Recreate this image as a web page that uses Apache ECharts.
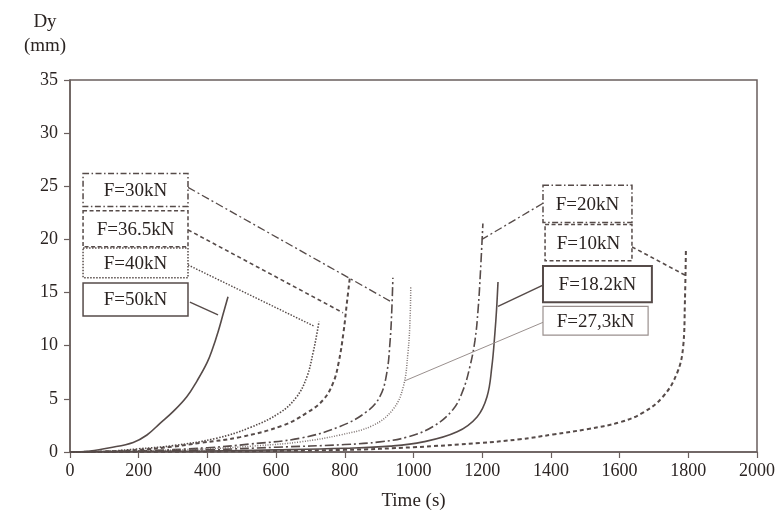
<!DOCTYPE html>
<html>
<head>
<meta charset="utf-8">
<script src="https://cdn.jsdelivr.net/npm/echarts@6/dist/echarts.min.js"></script>
<style>html,body{margin:0;padding:0;background:#fff}#c{width:783px;height:518px}</style>
</head>
<body>
<div id="c"></div>
<script>
// ---- data (time s, Dy mm) ----
const xTicks = [0,200,400,600,800,1000,1200,1400,1600,1800,2000];
const yTicks = [0,5,10,15,20,25,30,35];
const f50  = [[0,0],[58,0.1],[116,0.4],[184,0.9],[224,1.6],[262,2.7],[300,3.8],[340,5.2],[370,6.7],[399,8.4],[416,9.8],[431,11.3],[446,13.0],[460,14.6]];
const f40  = [[0,0],[100,0.05],[200,0.3],[300,0.6],[427,1.3],[524,2.3],[611,3.7],[660,5.2],[690,7.1],[708,9.4],[718,11],[725,12.3]];
const f365 = [[0,0],[100,0.05],[200,0.2],[300,0.5],[378,0.85],[495,1.4],[620,2.5],[690,3.7],[737,4.9],[766,6.5],[782,8.4],[796,11.2],[806,14],[815,16.5]];
const f30  = [[0,0],[200,0.1],[400,0.4],[524,0.75],[670,1.3],[786,2.4],[864,3.8],[902,5.2],[922,7.4],[932,10.5],[937,13.5],[940,16.4]];
const f273 = [[0,0],[200,0.1],[400,0.3],[550,0.6],[670,0.95],[786,1.6],[882,2.5],[940,4.0],[970,6.1],[984,9.4],[990,12.5],[992,15.5]];
const f20  = [[0,0],[200,0.05],[400,0.2],[600,0.45],[800,0.7],[902,0.95],[981,1.4],[1057,2.4],[1115,4.0],[1144,5.8],[1164,8.0],[1179,10.5],[1188,13.4],[1195,17],[1202,21.5]];
const f182 = [[0,0],[200,0.05],[400,0.1],[600,0.2],[800,0.35],[932,0.55],[1028,0.95],[1127,1.9],[1185,3.3],[1214,5.2],[1228,8.0],[1237,11.2],[1242,13.5],[1246,16]];
const f10  = [[0,0],[400,0.05],[800,0.2],[1000,0.45],[1194,0.85],[1310,1.2],[1406,1.65],[1505,2.15],[1601,2.8],[1668,3.7],[1726,5.2],[1767,7.4],[1785,9.9],[1790,14],[1793,19]];
// label boxes [x0,y0,x1,y1] in data units, and leader lines [[x,y],[x,y]]
const labels = ['F=50kN','F=40kN','F=36.5kN','F=30kN','F=27,3kN','F=20kN','F=18.2kN','F=10kN'];
const boxes = [
  [38,15.9,343.5,12.8],
  [38,19.2,343.5,16.4],
  [38,22.7,343.5,19.3],
  [38,26.2,343.5,23.1],
  [1377,13.7,1683,11.0],
  [1377,25.1,1636,21.6],
  [1377,17.5,1694,14.1],
  [1383,21.4,1636,18.0]
];
const leaders = [
  [[349,14.1],[431,12.9]],
  [[343.5,17.6],[710,11.85]],
  [[343.5,20.9],[794.8,13.1]],
  [[343.5,24.9],[931.6,14.2]],
  [[1377,12.2],[975,6.7]],
  [[1377,23.4],[1199,20.0]],
  [[1377,15.7],[1246,13.7]],
  [[1636,19.3],[1790,16.65]]
];

const dark = '#564b49';
const light = '#9a908e';
const styles = [
  {type:'solid', width:1.6, color:dark},
  {type:[1.5,1.5], width:1.6, color:dark},
  {type:[4,3], width:2, color:dark},
  {type:[9,3,2,3], width:1.6, color:dark},
  {type:[1,1.5], width:1.5, color:'#7d7270'},
  {type:[9,3,2,3], width:1.6, color:dark},
  {type:'solid', width:1.6, color:dark},
  {type:[4,3], width:2, color:dark}
];
const leaderStyles = [
  {type:'solid', width:1.4, color:dark},
  {type:[1.5,1.5], width:1.4, color:dark},
  {type:[4,3], width:1.6, color:dark},
  {type:[8,3,2,3], width:1.3, color:dark},
  {type:'solid', width:1, color:light},
  {type:[8,3,2,3], width:1.3, color:dark},
  {type:'solid', width:1.5, color:dark},
  {type:[4,3], width:1.6, color:dark}
];
const boxStyles = [
  {dash:null, w:1.5, c:dark},
  {dash:[1.5,1.5], w:1.5, c:dark},
  {dash:[4,2.5], w:1.5, c:dark},
  {dash:[6,2.5,1.5,2.5], w:1.5, c:dark},
  {dash:null, w:1.2, c:light},
  {dash:[6,2.5,1.5,2.5], w:1.5, c:dark},
  {dash:null, w:2, c:dark},
  {dash:[4,2.5], w:1.5, c:dark}
];
const seriesData = [f50,f40,f365,f30,f273,f20,f182,f10];

const font = 'Liberation Serif, Times New Roman, serif';
const axisColor = '#6a5f5d';
const textColor = '#2b2422';

const chart = echarts.init(document.getElementById('c'), null, {renderer:'canvas'});
chart.setOption({
  animation:false,
  backgroundColor:'#fff',
  grid:{left:70,right:26,top:80,bottom:66,show:true,borderColor:axisColor,borderWidth:1.5,containLabel:false},
  xAxis:{type:'value',min:0,max:2000,interval:200,
    name:'Time (s)',nameLocation:'middle',nameGap:40,
    nameTextStyle:{fontFamily:font,fontSize:19,color:textColor},
    axisLine:{show:true,lineStyle:{color:axisColor,width:1.5}},
    axisTick:{show:true,length:6,lineStyle:{color:axisColor,width:1.2}},
    axisLabel:{fontFamily:font,fontSize:18,color:textColor,margin:10,formatter:v=>xTicks.includes(v)?String(v):''},
    splitLine:{show:false}},
  yAxis:{type:'value',min:0,max:35,interval:5,
    axisLine:{show:true,lineStyle:{color:axisColor,width:1.5}},
    axisTick:{show:true,length:6,lineStyle:{color:axisColor,width:1.2}},
    axisLabel:{fontFamily:font,fontSize:18,color:textColor,margin:12,formatter:v=>yTicks.includes(v)?String(v):''},
    splitLine:{show:false}},
  series: seriesData.map((d,i)=>({
    type:'line', name:labels[i], data:d, showSymbol:false, smooth:0.4,
    lineStyle:styles[i], silent:true,
    markLine:{silent:true,symbol:['none','none'],label:{show:false},
      lineStyle:leaderStyles[i],
      data:[[{coord:leaders[i][0]},{coord:leaders[i][1]}]]}
  }))
});

const graphics = [];
boxes.forEach((b,i)=>{
  const p0 = chart.convertToPixel({gridIndex:0},[b[0],b[1]]);
  const p1 = chart.convertToPixel({gridIndex:0},[b[2],b[3]]);
  const s = boxStyles[i];
  graphics.push({type:'rect',z:100,shape:{x:p0[0],y:p0[1],width:p1[0]-p0[0],height:p1[1]-p0[1]},
    style:{fill:'#fff',stroke:s.c,lineWidth:s.w,lineDash:s.dash||null}});
  graphics.push({type:'text',z:101,x:(p0[0]+p1[0])/2,y:(p0[1]+p1[1])/2+1,
    style:{text:labels[i],font:'19px '+font,fill:textColor,align:'center',verticalAlign:'middle'}});
});
graphics.push({type:'text',z:101,x:45,y:22,style:{text:'Dy',font:'19px '+font,fill:textColor,align:'center',verticalAlign:'middle'}});
graphics.push({type:'text',z:101,x:45,y:46,style:{text:'(mm)',font:'19px '+font,fill:textColor,align:'center',verticalAlign:'middle'}});
chart.setOption({graphic:graphics});
</script>
</body>
</html>
